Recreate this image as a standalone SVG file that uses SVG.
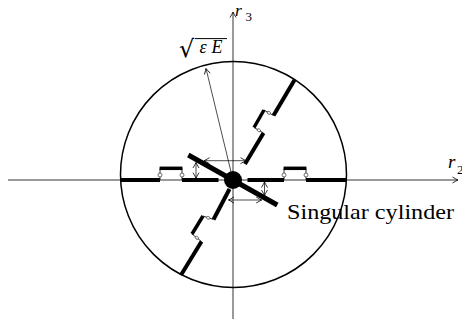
<svg xmlns="http://www.w3.org/2000/svg" width="462" height="323" viewBox="0 0 462 323">
<defs>
<marker id="ah" viewBox="-7 -4 8 8" refX="0" refY="0" markerWidth="8" markerHeight="8" orient="auto-start-reverse" markerUnits="userSpaceOnUse">
<path d="M-5.5,-3 Q-1.5,-0.6 0,0 Q-1.5,0.6 -5.5,3" fill="none" stroke="#000" stroke-width="0.8"/>
</marker>
<style>
.axis{stroke:#000;stroke-width:0.8;fill:none}
.circ{stroke:#000;stroke-width:1.5;fill:none}
.thick{stroke:#000;stroke-width:4;fill:none;stroke-linecap:butt}
.raised{stroke:#000;stroke-width:3.5;fill:none;stroke-linecap:butt}
.thin{stroke:#000;stroke-width:0.8;fill:none}
.knot{stroke:#333;stroke-width:0.7;fill:#fff}
.arr{stroke:#000;stroke-width:0.7;fill:none}
.lbl{font-family:"Liberation Serif",serif;fill:#000}
</style>
</defs>
<rect width="462" height="323" fill="#fff"/>

<g id="axes">
<line class="axis" x1="8" y1="180" x2="458" y2="180" marker-end="url(#ah)"/>
<line class="axis" x1="233" y1="319" x2="233" y2="12" marker-end="url(#ah)"/>
</g>

<g id="circle-node">
<circle class="circ" cx="233.5" cy="174.5" r="113"/>
</g>

<g id="arm-left">
<line class="thick" x1="120.5" y1="180" x2="160" y2="180"/>
<line class="thin" x1="160" y1="180" x2="160" y2="168.5"/>
<line class="raised" x1="159.6" y1="168.3" x2="182.4" y2="168.3"/>
<line class="thin" x1="182" y1="168.5" x2="182" y2="180"/>
<line class="thick" x1="182" y1="180" x2="218.5" y2="180"/>
<circle class="knot" cx="160" cy="175" r="2"/>
<circle class="knot" cx="182" cy="175" r="2"/>
</g>

<g id="arm-right">
<line class="thick" x1="247.5" y1="180" x2="284" y2="180"/>
<line class="thin" x1="284" y1="180" x2="284" y2="168.5"/>
<line class="raised" x1="283.6" y1="168.3" x2="306.4" y2="168.3"/>
<line class="thin" x1="306" y1="168.5" x2="306" y2="180"/>
<line class="thick" x1="306" y1="180" x2="346.5" y2="180"/>
<circle class="knot" cx="284" cy="175" r="2"/>
<circle class="knot" cx="306" cy="175" r="2"/>
</g>

<g id="arm-upper">
<line class="thick" x1="245" y1="164" x2="263.5" y2="133"/>
<line class="thin" x1="263.5" y1="133" x2="254" y2="127.5"/>
<line class="raised" x1="254" y1="127.5" x2="264" y2="110"/>
<line class="thin" x1="264" y1="110" x2="273.5" y2="115.5"/>
<line class="thick" x1="273.5" y1="115.5" x2="294.5" y2="80"/>
<ellipse class="knot" cx="258.8" cy="130.2" rx="1.8" ry="1.3" transform="rotate(30 258.8 130.2)"/>
<ellipse class="knot" cx="268.8" cy="112.8" rx="1.8" ry="1.3" transform="rotate(30 268.8 112.8)"/>
</g>

<g id="arm-lower">
<line class="thick" x1="229.5" y1="189" x2="213.5" y2="219.5"/>
<line class="thin" x1="213.5" y1="219.5" x2="203" y2="216"/>
<line class="raised" x1="203" y1="216" x2="192" y2="234"/>
<line class="thin" x1="192" y1="234" x2="201.5" y2="241.5"/>
<line class="thick" x1="201.5" y1="241.5" x2="181" y2="275"/>
<ellipse class="knot" cx="208.2" cy="217.8" rx="1.8" ry="1.3" transform="rotate(20 208.2 217.8)"/>
<ellipse class="knot" cx="196.8" cy="237.8" rx="1.8" ry="1.3" transform="rotate(38 196.8 237.8)"/>
</g>

<g id="singular-cylinder">
<line stroke="#000" stroke-width="5" x1="188.3" y1="155" x2="277.3" y2="205"/>
<circle cx="233" cy="180" r="9" fill="#000"/>
</g>

<g id="connectors">
<line class="arr" x1="233" y1="180" x2="206" y2="68.5" marker-end="url(#ah)"/>
<line class="arr" x1="204" y1="160.7" x2="246" y2="160.7" marker-start="url(#ah)" marker-end="url(#ah)"/>
<line class="arr" x1="228.5" y1="200" x2="261.7" y2="200" marker-start="url(#ah)" marker-end="url(#ah)"/>
<line class="arr" x1="196" y1="162.5" x2="196" y2="178.2" marker-start="url(#ah)" marker-end="url(#ah)"/>
<line class="arr" x1="264.5" y1="182" x2="264.5" y2="195.5" marker-start="url(#ah)" marker-end="url(#ah)"/>
</g>

<g id="labels">
<text class="lbl" x="235" y="15.5" font-size="17.5" font-style="italic">r</text>
<text class="lbl" x="245.5" y="21" font-size="13">3</text>
<text class="lbl" x="448" y="168.3" font-size="19" font-style="italic">r</text>
<text class="lbl" x="457" y="174" font-size="13">2</text>
<text x="179" y="57" font-size="24" font-family="'DejaVu Sans',sans-serif">√</text>
<line stroke="#000" stroke-width="1" x1="195" y1="38.6" x2="227" y2="38.6"/>
<text class="lbl" x="199.5" y="53.3" font-size="18" font-style="italic">ε</text>
<text class="lbl" x="211.5" y="53.3" font-size="18" font-style="italic">E</text>
<text class="lbl" x="287" y="218.5" font-size="21" textLength="167" lengthAdjust="spacingAndGlyphs">Singular cylinder</text>
</g>
</svg>
